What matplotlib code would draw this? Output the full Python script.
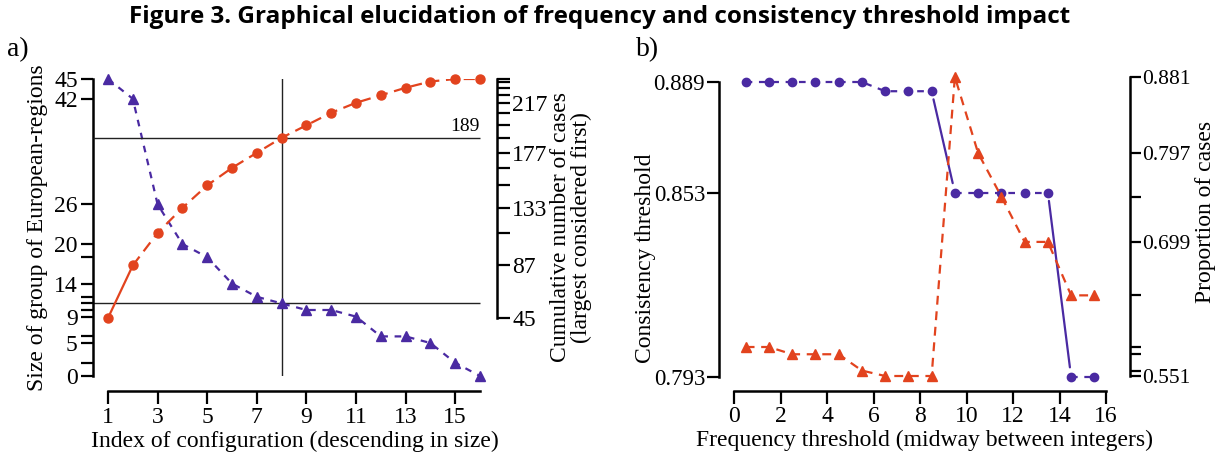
import numpy as np
import matplotlib
matplotlib.use("Agg")
import matplotlib.pyplot as plt

# Panel a data
config_index = list(range(1, 17))
group_size = [45, 42, 26, 20, 18, 14, 12, 11, 10, 10, 9, 6, 6, 5, 2, 0]
cum_cases = [45, 87, 113, 133, 151, 165, 177, 189, 199, 209, 217, 223, 229, 234, 236, 236]
size_labels = [45, 42, 26, 20, 14, 9, 5, 0]
cum_labels = [45, 87, 133, 177, 217]
cut_index = 8
cut_size = 11
cut_cases = 189

# Panel b data
freq_threshold = [0.5, 1.5, 2.5, 3.5, 4.5, 5.5, 6.5, 7.5, 8.5, 9.5, 10.5, 11.5, 12.5, 13.5, 14.5, 15.5]
consistency = [0.889, 0.889, 0.889, 0.889, 0.889, 0.889, 0.886, 0.886, 0.886,
               0.853, 0.853, 0.853, 0.853, 0.853, 0.793, 0.793]
proportion = [0.583, 0.583, 0.575, 0.575, 0.575, 0.557, 0.551, 0.551, 0.551,
              0.881, 0.797, 0.749, 0.699, 0.699, 0.640, 0.640]
cons_ticks = [0.889, 0.853, 0.793]
prop_labels = [0.881, 0.797, 0.699, 0.551]
cons_groups = [(0, 9), (9, 14), (14, 16)]

RED = '#e2431e'
PURPLE = '#4a2aa2'
W, H = 1220, 462
SERIF = 'Liberation Serif'

plt.rcParams['font.family'] = SERIF
plt.rcParams['axes.linewidth'] = 1.8
fig = plt.figure(figsize=(W / 100, H / 100), dpi=100)


def px_axes(x0, y_top, x1, y_bot):
    return fig.add_axes([x0 / W, 1 - y_bot / H, (x1 - x0) / W, (y_bot - y_top) / H])


def style(ax, lab_size=17, pad=2):
    ax.tick_params(direction='out', length=9, width=1.6, labelsize=lab_size, pad=pad)
    ax.spines['top'].set_visible(False)
    ax.patch.set_alpha(0)


# ---------------- panel a ----------------
ax = px_axes(93, 79, 497, 376)
ax.set_xlim(1 - 15 / 24.8, 16 + 17 / 24.8)
ax.set_ylim(0, 45)
ax2 = ax.twinx()
frac45 = (376 - 318) / (376 - 79)
span = (236 - 45) / (1 - frac45)
ax2.set_ylim(45 - frac45 * span, 236)

style(ax)
style(ax2)
ax.spines['right'].set_visible(False)
ax2.spines['left'].set_visible(False)
ax2.spines['bottom'].set_visible(False)
ax.spines['bottom'].set_position(('outward', 11))
ax.spines['bottom'].set_bounds(1, 16)
ax.spines['left'].set_bounds(0, 45)
ax2.spines['right'].set_bounds(45, 236)

ax.set_xticks(config_index[::2])
ax.set_yticks(sorted(set(group_size)))
ax.set_yticklabels([str(v) if v in size_labels else '' for v in sorted(set(group_size))])
ax2.set_yticks(sorted(set(cum_cases)))
ax2.set_yticklabels([str(v) if v in cum_labels else '' for v in sorted(set(cum_cases))])

ax.axvline(cut_index, color='#222222', lw=1.0)
ax.hlines(cut_size, ax.get_xlim()[0], 16, color='#222222', lw=1.0)
ax2.hlines(cut_cases, ax.get_xlim()[0], 16, color='#222222', lw=1.0)
ax2.text(16, cut_cases + 2, str(cut_cases), ha='right', va='bottom', fontsize=14)

ax.plot(config_index, group_size, color=PURPLE, lw=1.6, ls=(0, (3, 3)),
        marker='^', ms=7, clip_on=False, zorder=4)
ax2.plot(config_index[:2], cum_cases[:2], color=RED, lw=1.6, zorder=3)
ax2.plot(config_index[1:], cum_cases[1:], color=RED, lw=1.6, ls=(0, (5, 3)), zorder=3)
ax2.plot(config_index, cum_cases, color=RED, lw=0, marker='o', ms=6.5,
         clip_on=False, zorder=4)

ax.set_ylabel('Size of group of European-regions', fontsize=17, labelpad=4)
ax.set_xlabel('Index of configuration (descending in size)', fontsize=17, labelpad=2)
ax2.set_ylabel('Cumulative number of cases\n(largest considered first)', fontsize=17,
               labelpad=2, linespacing=0.95)

# ---------------- panel b ----------------
bx = px_axes(719, 77, 1130, 377)
bx.set_xlim(-15 / 23.25, 16 + 24 / 23.25)
bx.set_ylim(0.793, 0.793 + 300 * 0.096 / 295)
bx2 = bx.twinx()
bx2.set_ylim(0.551 - 0.33 / 299, 0.881)

style(bx, 16.5, 1)
style(bx2, 15.5, 1)
bx.tick_params(axis='x', labelsize=17, pad=2)
bx2.tick_params(axis='y', length=8)
bx.spines['right'].set_visible(False)
bx2.spines['left'].set_visible(False)
bx2.spines['bottom'].set_visible(False)
bx.spines['bottom'].set_position(('outward', 10))
bx.spines['bottom'].set_bounds(0, 16)
bx.spines['left'].set_bounds(0.793, 0.889)
bx2.spines['right'].set_bounds(0.551, 0.881)

bx.set_xticks(range(0, 17, 2))
bx.set_yticks(cons_ticks)
bx.set_yticklabels([f'{v:.3f}' for v in cons_ticks])
pticks = sorted(set(proportion))
bx2.set_yticks(pticks)
bx2.set_yticklabels([f'{v:.3f}' if v in prop_labels else '' for v in pticks])

for a, b in cons_groups:
    bx.plot(freq_threshold[a:b], consistency[a:b], color=PURPLE, lw=1.6,
            ls=(0, (3, 3)), marker='o', ms=6, clip_on=False, zorder=4)
for a, b in cons_groups[1:]:
    bx.annotate('', xy=(freq_threshold[a], consistency[a]),
                xytext=(freq_threshold[a - 1], consistency[a - 1]),
                arrowprops=dict(arrowstyle='-', color=PURPLE, lw=1.6,
                                shrinkA=6, shrinkB=7))
bx2.plot(freq_threshold, proportion, color=RED, lw=1.6, ls=(0, (4, 3)),
         marker='^', ms=7, clip_on=False, zorder=4)

bx.set_xlabel('Frequency threshold (midway between integers)', fontsize=17, labelpad=2)
fig.text(645 / W, 1 - 258 / H, 'Consistency threshold', fontsize=17,
         rotation=90, ha='center', va='center')
fig.text(1206 / W, 1 - 212 / H, 'Proportion of cases', fontsize=17,
         rotation=90, ha='center', va='center')

fig.text(18 / W, 1 - 50 / H, 'a)', fontsize=20, ha='center', va='center')
fig.text(648 / W, 1 - 50 / H, 'b)', fontsize=20, ha='center', va='center')
fig.text(600 / W, 1 - 17 / H,
         'Figure 3. Graphical elucidation of frequency and consistency threshold impact',
         fontsize=17.5, fontweight='bold', family='Open Sans', ha='center', va='center')

fig.savefig('out.png', dpi=100)
